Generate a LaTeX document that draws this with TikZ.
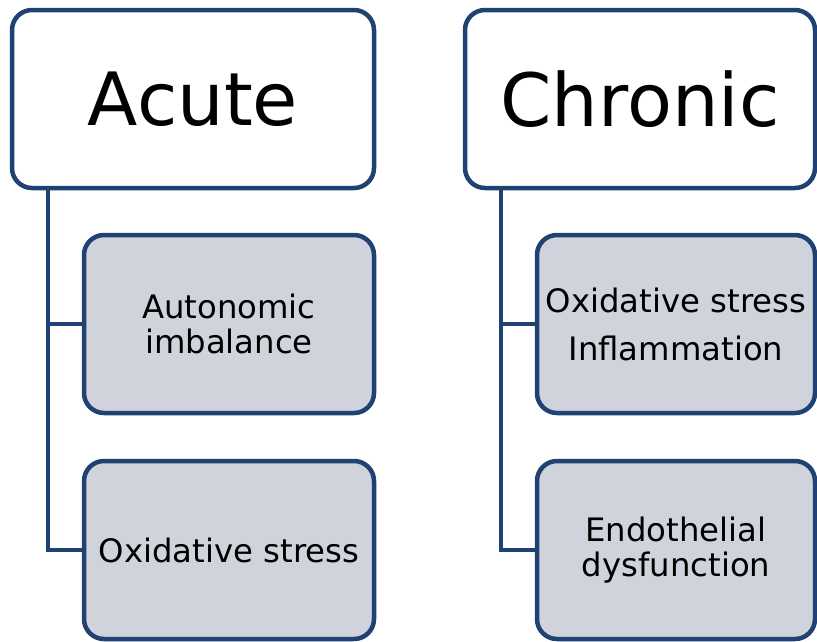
\documentclass[tikz,border=0pt]{standalone}
\usepackage{fontspec}
\setmainfont{DejaVu Sans}
\definecolor{bordeazul}{HTML}{1F4273}
\definecolor{rellenogris}{HTML}{D0D3DB}
\tikzset{
	cabecera/.style={draw=bordeazul,line width=4.5pt,rounded corners=20pt,fill=white,minimum height=178pt,font=\fontsize{73.5}{80}\selectfont},
	hijo/.style={draw=bordeazul,line width=4.5pt,rounded corners=20pt,fill=rellenogris,minimum width=290pt,minimum height=178pt,align=center,font=\fontsize{32.3}{35}\selectfont},
	rama/.style={draw=bordeazul,line width=4.5pt}
}
\begin{document}
\begin{tikzpicture}[x=1pt,y=-1pt]
	\useasboundingbox (0,0) rectangle (817,641);

	%cabeceras
	\node[cabecera,minimum width=362pt] (acute) at (193,99) {Acute};
	\node[cabecera,minimum width=350pt] (chronic) at (640,99) {Chronic};

	%hijos Acute
	\node[hijo] (a1) at (229,324) {Autonomic\\imbalance};
	\node[hijo] (a2) at (229,550) {Oxidative stress};

	%hijos Chronic
	\node[hijo,minimum width=278pt] (c1) at (676,324) {Oxidative stress\\[13pt]Inflammation};
	\node[hijo,minimum width=278pt] (c2) at (676,550) {Endothelial\\dysfunction};

	%ramas
	\draw[rama] ([xshift=38pt]acute.south west) |- (a1.west);
	\draw[rama] ([xshift=38pt]acute.south west) |- (a2.west);
	\draw[rama] ([xshift=38pt]chronic.south west) |- (c1.west);
	\draw[rama] ([xshift=38pt]chronic.south west) |- (c2.west);
\end{tikzpicture}
\end{document}
